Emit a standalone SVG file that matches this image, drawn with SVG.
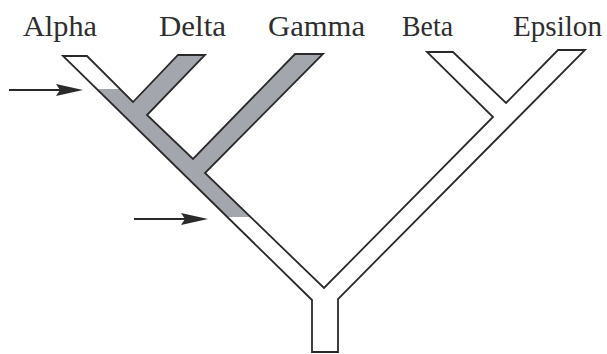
<svg xmlns="http://www.w3.org/2000/svg" width="607" height="354" viewBox="0 0 607 354">
  <style>
    .lbl { font-family: "Liberation Serif", "DejaVu Serif", serif; font-size: 29px; fill: #2e2e2e; }
    .outline { fill: none; stroke: #2a2a2a; stroke-width: 1.8; stroke-linejoin: miter; }
    .shade { fill: #a3a6ad; stroke: none; }
    .arrow-line { stroke: #2a2a2a; stroke-width: 2; }
    .arrow-head { fill: #2a2a2a; }
  </style>
  <rect width="607" height="354" fill="#ffffff"/>
  <g id="labels">
    <text id="label-alpha" class="lbl" x="23" y="36" textLength="74" lengthAdjust="spacingAndGlyphs">Alpha</text>
    <text id="label-delta" class="lbl" x="159" y="36" textLength="67" lengthAdjust="spacingAndGlyphs">Delta</text>
    <text id="label-gamma" class="lbl" x="268" y="36" textLength="97" lengthAdjust="spacingAndGlyphs">Gamma</text>
    <text id="label-beta" class="lbl" x="402" y="36" textLength="51" lengthAdjust="spacingAndGlyphs">Beta</text>
    <text id="label-epsilon" class="lbl" x="513" y="36" textLength="89" lengthAdjust="spacingAndGlyphs">Epsilon</text>
  </g>
  <g id="tree">
    <polygon id="shading" class="shade" points="96.6,89 120.7,89 133,102 178,55 205,55 147,115 193,159 295,54 323,54 205,173 251.5,217 227.3,217"/>
    <polygon id="tree-outline" class="outline" points="63,56 87,56 133,102 178,55 205,55 147,115 193,159 295,54 323,54 205,173 324,288 493,117 427,52 453,52 506,103 558,50 585,50 338,299 338,352 312,352 312,300"/>
  </g>
  <g id="arrows">
    <g id="arrow-1">
      <line class="arrow-line" x1="9" y1="90" x2="62" y2="90"/>
      <polygon class="arrow-head" points="83,90 56,84 60,90 56,96"/>
    </g>
    <g id="arrow-2">
      <line class="arrow-line" x1="134" y1="219" x2="186" y2="219"/>
      <polygon class="arrow-head" points="208,219 181,213 185,219 181,225"/>
    </g>
  </g>
</svg>
